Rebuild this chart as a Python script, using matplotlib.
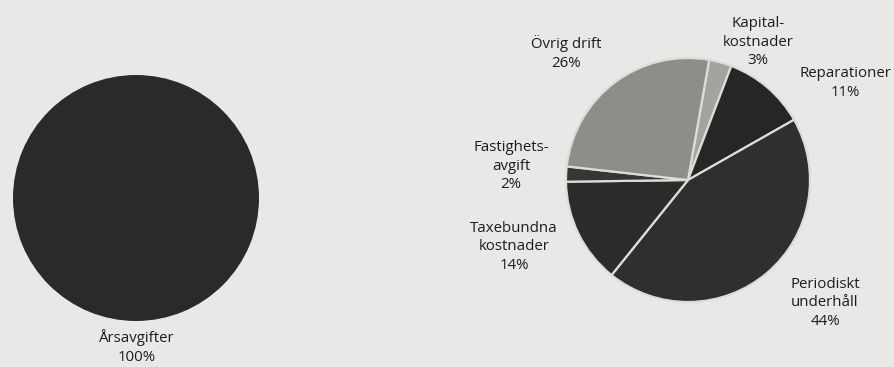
import matplotlib
matplotlib.use("Agg")
import matplotlib.pyplot as plt

# Data
left_labels = ["Årsavgifter"]
left_values = [100]

right_labels = ["Kapital-\nkostnader", "Reparationer", "Periodiskt\nunderhåll",
                "Taxebundna\nkostnader", "Fastighets-\navgift", "Övrig drift"]
right_values = [3, 11, 44, 14, 2, 26]

plt.rcParams["font.family"] = ["Open Sans", "DejaVu Sans"]

W, H = 894, 367
fig = plt.figure(figsize=(W / 100, H / 100), dpi=100)
bg = "#e8e8e6"
fig.patch.set_facecolor(bg)
ax = fig.add_axes([0, 0, 1, 1])
ax.set_facecolor(bg)

FS = 10.8
LS = 1.3
TXT = "#1c1c1c"

# Left pie
ax.pie(left_values, colors=["#2a2a28"], center=(136, H - 198), radius=123,
       startangle=90, wedgeprops=dict(linewidth=0))
ax.text(137, H - 347, f"{left_labels[0]}\n{left_values[0]}%", ha="center", va="center",
        fontsize=FS, color=TXT, linespacing=LS)

# Right pie
right_colors = ["#a3a3a0", "#262624", "#2f2f2d", "#2b2b29", "#363634", "#8d8d8a"]
ax.pie(right_values, colors=right_colors, center=(688, H - 180), radius=122,
       startangle=80, counterclock=False,
       wedgeprops=dict(edgecolor="#dedcd8", linewidth=1.6))

label_pos = [(758, 42), (845, 83), (825, 303), (514, 247), (511, 166), (566, 53)]
for lab, v, (x, y) in zip(right_labels, right_values, label_pos):
    ax.text(x, H - y, f"{lab}\n{v}%", ha="center", va="center", fontsize=FS,
            color=TXT, linespacing=LS)

ax.set_xlim(0, W)
ax.set_ylim(0, H)
ax.set_aspect("equal")
ax.axis("off")

fig.savefig("out.png", dpi=100, facecolor=bg)
